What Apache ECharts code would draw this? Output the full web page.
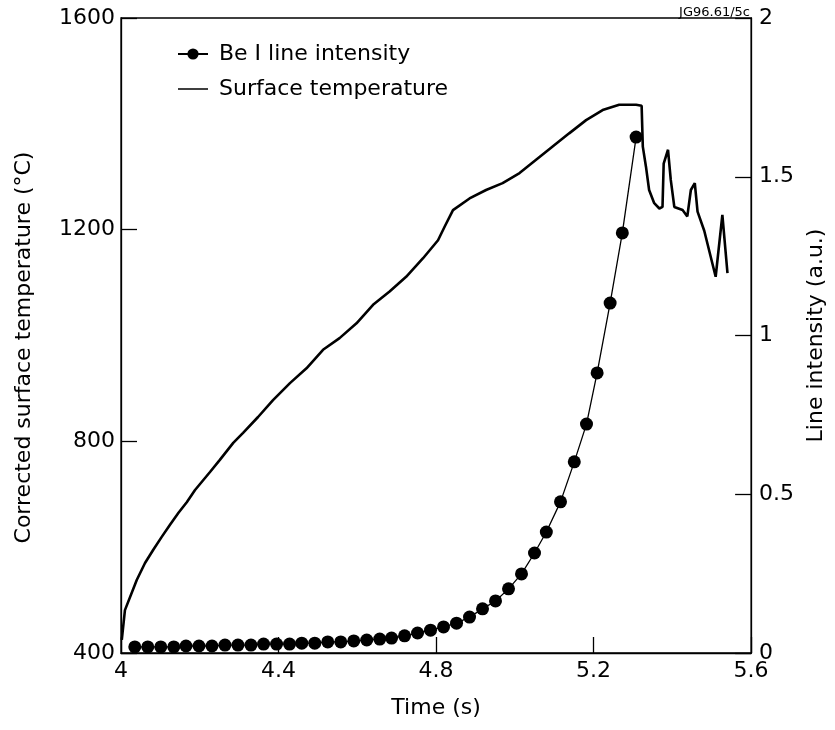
<!DOCTYPE html>
<html>
<head>
<meta charset="utf-8">
<script src="https://cdn.jsdelivr.net/npm/echarts@6/dist/echarts.min.js"></script>
<style>
html,body{margin:0;padding:0;background:#fff;}
#chart{width:835px;height:730px;}
</style>
</head>
<body>
<div id="chart"></div>
<script>
// Be I line intensity markers (time in s, intensity in a.u.)
const beTime = [4.035,4.068,4.101,4.134,4.165,4.198,4.231,4.264,4.297,4.330,
                4.362,4.395,4.428,4.459,4.492,4.525,4.558,4.591,4.624,4.657,
                4.687,4.720,4.753,4.786,4.819,4.852,4.885,4.918,4.951,4.984,
                5.017,5.050,5.080,5.116,5.151,5.182,5.209,5.242,5.273,5.308];
const beIntensity = [0.019,0.019,0.019,0.019,0.022,0.022,0.022,0.025,0.025,0.025,
                     0.028,0.028,0.028,0.031,0.031,0.035,0.035,0.038,0.041,0.044,
                     0.047,0.054,0.063,0.072,0.082,0.094,0.113,0.139,0.164,0.202,
                     0.249,0.315,0.381,0.476,0.602,0.721,0.882,1.102,1.323,1.625];

// Corrected surface temperature (time in s, temperature in °C)
const tempTime = [4.002,4.010,4.040,4.061,4.082,4.103,4.124,4.146,4.167,4.188,
                  4.226,4.251,4.285,4.310,4.348,4.386,4.429,4.471,4.513,4.555,
                  4.598,4.640,4.682,4.724,4.767,4.805,4.822,4.843,4.885,4.927,
                  4.969,5.012,5.054,5.096,5.138,5.181,5.223,5.265,5.308,5.322,
                  5.325,5.333,5.341,5.354,5.367,5.375,5.378,5.389,5.396,5.405,
                  5.426,5.438,5.447,5.457,5.464,5.481,5.510,5.527,5.540];
const tempValues = [425,481,538,570,595,619,642,665,685,708,
                    742,765,797,816,846,878,910,938,973,995,
                    1023,1058,1083,1111,1146,1180,1206,1237,1259,1275,
                    1288,1307,1332,1357,1382,1407,1426,1436,1436,1434,
                    1357,1319,1275,1250,1240,1243,1325,1351,1294,1243,
                    1237,1225,1275,1288,1234,1198,1111,1228,1118];

const xTicks = {min: 4, max: 5.6, interval: 0.4};
const leftTicks = {min: 400, max: 1600, interval: 400};
const rightTicks = {min: 0, max: 2, interval: 0.5};

const FONT = 'DejaVu Sans';
const chart = echarts.init(document.getElementById('chart'), null, {renderer: 'canvas'});

const axisCommon = {
  axisLine: {show: true, lineStyle: {color: '#000', width: 1.3}},
  axisTick: {show: true, inside: true, length: 16, lineStyle: {color: '#000', width: 1.3}},
  splitLine: {show: false},
  axisLabel: {color: '#000', fontFamily: FONT, fontSize: 22, formatter: v => String(v)},
  nameTextStyle: {color: '#000', fontFamily: FONT, fontSize: 22}
};

// plain line legend icon (thin bar centred in the icon box)
const lineIcon = 'path://M0,0L0.01,0L0,0.01Z M0,6.2L30,6.2L30,7.8L0,7.8Z M0,14L0.01,14L0,13.99Z';

chart.setOption({
  animation: false,
  backgroundColor: '#fff',
  title: {
    text: 'JG96.61/5c', right: 80, top: 1,
    textStyle: {fontFamily: FONT, fontSize: 13, fontWeight: 'normal', color: '#000'}
  },
  grid: {left: 121, right: 83, top: 18, bottom: 77, show: true, borderColor: '#000', borderWidth: 1.3},
  legend: {
    orient: 'vertical', left: 172, top: 37,
    itemWidth: 30, itemHeight: 14, itemGap: 11,
    textStyle: {color: '#000', fontFamily: FONT, fontSize: 22, lineHeight: 24, padding: [0, 0, 0, 6]},
    data: [
      {name: 'Be I line intensity'},
      {name: 'Surface temperature', icon: lineIcon, itemStyle: {color: '#000'}}
    ]
  },
  xAxis: Object.assign({}, axisCommon, {
    type: 'value', min: xTicks.min, max: xTicks.max, interval: xTicks.interval,
    name: 'Time (s)', nameLocation: 'middle', nameGap: 44,
    axisLabel: Object.assign({}, axisCommon.axisLabel, {margin: 7})
  }),
  yAxis: [
    Object.assign({}, axisCommon, {
      type: 'value', position: 'left', min: leftTicks.min, max: leftTicks.max, interval: leftTicks.interval,
      name: 'Corrected surface temperature (°C)', nameLocation: 'middle', nameRotate: 90, nameGap: 86,
      nameTextStyle: Object.assign({}, axisCommon.nameTextStyle, {padding: [0, 24, 0, 0]}),
      axisLabel: Object.assign({}, axisCommon.axisLabel, {margin: 6})
    }),
    Object.assign({}, axisCommon, {
      type: 'value', position: 'right', min: rightTicks.min, max: rightTicks.max, interval: rightTicks.interval,
      name: 'Line intensity (a.u.)', nameLocation: 'middle', nameRotate: 90, nameGap: 48,
      axisLabel: Object.assign({}, axisCommon.axisLabel, {margin: 8})
    })
  ],
  series: [
    {
      name: 'Be I line intensity', type: 'line', yAxisIndex: 1,
      data: beTime.map((t, i) => [t, beIntensity[i]]),
      symbol: 'circle', symbolSize: 13, showSymbol: true,
      itemStyle: {color: '#000'},
      lineStyle: {color: '#000', width: 1.3},
      z: 3
    },
    {
      name: 'Surface temperature', type: 'line', yAxisIndex: 0,
      data: tempTime.map((t, i) => [t, tempValues[i]]),
      showSymbol: false, symbol: 'none',
      itemStyle: {color: '#000'},
      lineStyle: {color: '#000', width: 2.6},
      z: 2
    }
  ]
});
</script>
</body>
</html>
